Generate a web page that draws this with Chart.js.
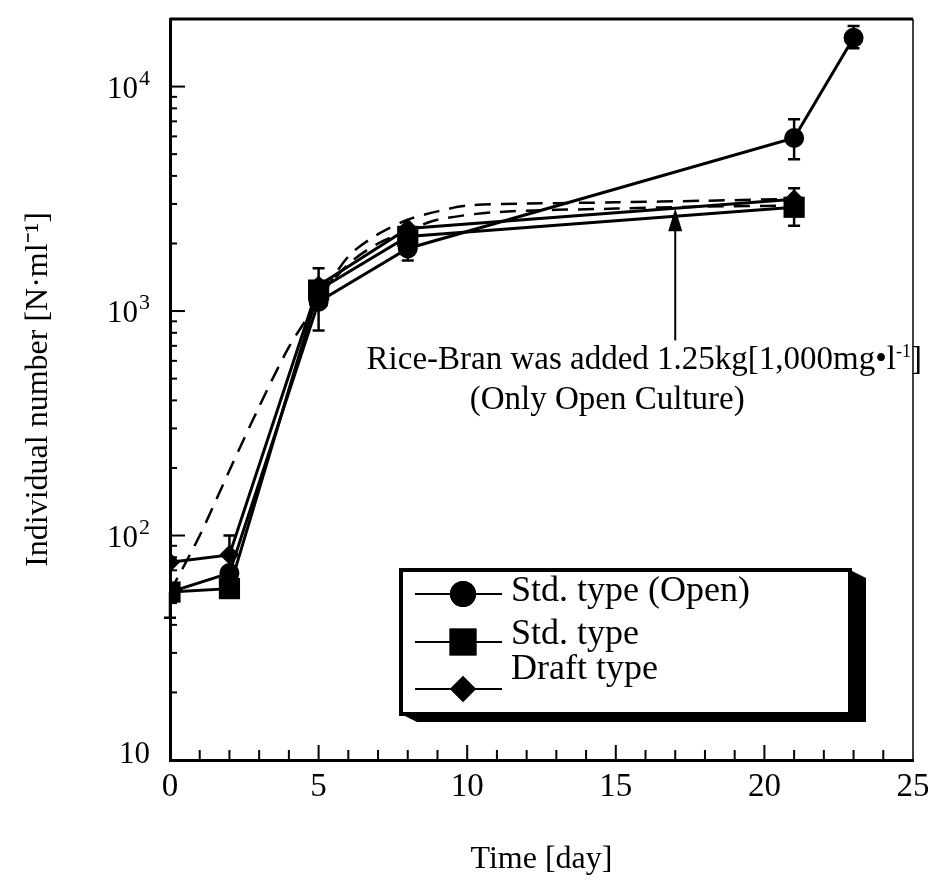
<!DOCTYPE html>
<html>
<head>
<meta charset="utf-8">
<script src="https://cdn.jsdelivr.net/npm/chart.js@4.4.1/dist/chart.umd.min.js"></script>
<style>
  html, body { margin: 0; padding: 0; background: #fff; }
</style>
</head>
<body>
<canvas id="growthChart" width="928" height="883"></canvas>
<script>
// 1. Data (days, individuals per ml)
const openDays = [0, 2, 5, 8, 21, 23];
const openValues = [56, 68, 1100, 1900, 5900, 16500];
const openErrLow = [43, null, 820, 1680, 4750, 14800];
const openErrHigh = [null, null, 1550, null, 7150, 18600];

const stdDays = [0, 2, 5, 8, 21];
const stdValues = [56, 58, 1240, 2150, 2900];
const stdErrLow = [null, null, null, null, 2400];
const stdErrHigh = [null, null, null, null, 3520];

const draftDays = [0, 2, 5, 8, 21];
const draftValues = [76, 82, 1300, 2330, 3150];
const draftErrLow = [null, null, null, null, null];
const draftErrHigh = [null, 100, null, null, null];

// dashed curves (no markers)
const curveADays = [0, 1, 2, 3, 4, 5, 6, 7, 8, 9, 10, 12, 15, 18, 21];
const curveAValues = [56, 100, 195, 375, 690, 1110, 1750, 2200, 2550, 2780, 2950, 3010, 3050, 3100, 3160];
const curveBDays = [5, 6, 7, 8, 9, 11, 15, 18, 21];
const curveBValues = [1150, 1620, 2000, 2280, 2550, 2760, 2860, 2920, 2950];

const xTicks = [0, 5, 10, 15, 20, 25];
const yDecades = [[10, ''], [100, '2'], [1000, '3'], [10000, '4']];

const arrowDay = 17;
const arrowFrom = 740;
const arrowTo = 2870;

const FONT = "'Liberation Serif', 'Times New Roman', serif";

const pts = (xs, ys) => xs.map((x, i) => ({ x: x, y: ys[i] }));

// 2. Plugin: frame, inward ticks, error bars, arrow note, 3D legend box
const figurePlugin = {
    id: 'figureDecor',
    beforeDatasetsDraw: (chart) => {
        const { ctx, scales: { x, y } } = chart;
        ctx.save();
        ctx.strokeStyle = '#000';
        ctx.lineWidth = 2.5;
        const bars = [
            [openDays, openErrLow, openErrHigh, openValues],
            [stdDays, stdErrLow, stdErrHigh, stdValues],
            [draftDays, draftErrLow, draftErrHigh, draftValues]
        ];
        bars.forEach(([days, lo, hi, vals]) => {
            days.forEach((d, i) => {
                const px = x.getPixelForValue(d);
                const py = y.getPixelForValue(vals[i]);
                [lo[i], hi[i]].forEach(v => {
                    if (v == null) return;
                    const ey = y.getPixelForValue(v);
                    ctx.beginPath();
                    ctx.moveTo(px, py); ctx.lineTo(px, ey);
                    ctx.moveTo(px - 6, ey); ctx.lineTo(px + 6, ey);
                    ctx.stroke();
                });
            });
        });
        ctx.restore();
    },
    afterDraw: (chart) => {
        const { ctx, chartArea: a, scales: { x, y } } = chart;
        ctx.save();
        ctx.strokeStyle = '#000';
        ctx.fillStyle = '#000';

        // frame
        ctx.lineWidth = 3;
        ctx.beginPath();
        ctx.moveTo(a.left, a.top); ctx.lineTo(a.right, a.top);
        ctx.stroke();
        ctx.lineWidth = 1.5;
        ctx.beginPath();
        ctx.moveTo(a.right, a.top); ctx.lineTo(a.right, a.bottom);
        ctx.stroke();

        // inward ticks
        ctx.lineWidth = 2;
        for (let d = 1; d < 25; d++) {
            const px = x.getPixelForValue(d);
            const len = d % 5 === 0 ? 15 : 10;
            ctx.beginPath();
            ctx.moveTo(px, a.bottom); ctx.lineTo(px, a.bottom - len);
            ctx.stroke();
        }
        for (let e = 1; e <= 4; e++) {
            for (let m = 1; m <= 9; m++) {
                const v = m * Math.pow(10, e);
                if (v <= 10 || v > 20000) continue;
                const py = y.getPixelForValue(v);
                const len = m === 1 ? 15 : 7;
                ctx.beginPath();
                ctx.moveTo(a.left, py); ctx.lineTo(a.left + len, py);
                ctx.stroke();
            }
        }

        // y labels: 10 with superscript power
        ctx.textAlign = 'right';
        ctx.textBaseline = 'alphabetic';
        yDecades.forEach(([v, p]) => {
            const py = y.getPixelForValue(v);
            let right = a.left - 20;
            if (p) {
                ctx.font = '22px ' + FONT;
                ctx.fillText(p, right, py - 2);
                right -= ctx.measureText(p).width + 1;
            }
            ctx.font = '31px ' + FONT;
            ctx.fillText('10', right, py + (p ? 11 : 3));
        });

        // arrow + note
        const ax = x.getPixelForValue(arrowDay);
        const ay0 = y.getPixelForValue(arrowFrom);
        const ay1 = y.getPixelForValue(arrowTo);
        ctx.lineWidth = 2;
        ctx.beginPath();
        ctx.moveTo(ax, ay0); ctx.lineTo(ax, ay1 + 20);
        ctx.stroke();
        ctx.beginPath();
        ctx.moveTo(ax, ay1); ctx.lineTo(ax - 7, ay1 + 23); ctx.lineTo(ax + 7, ay1 + 23);
        ctx.closePath();
        ctx.fill();

        const runs = (parts, cx, base) => {
            let w = 0;
            parts.forEach(p => { ctx.font = p.size + 'px ' + FONT; w += ctx.measureText(p.t).width; });
            let cur = cx - w / 2;
            ctx.textAlign = 'left';
            ctx.textBaseline = 'alphabetic';
            parts.forEach(p => {
                ctx.font = p.size + 'px ' + FONT;
                ctx.fillText(p.t, cur, base - (p.rise || 0));
                cur += ctx.measureText(p.t).width;
            });
        };
        runs([{ t: 'Rice-Bran was added 1.25kg[1,000mg\u2022l', size: 33 },
              { t: '-1', size: 18, rise: 12 },
              { t: ']', size: 33 }], ax - 31, ay0 + 29);
        runs([{ t: '(Only Open Culture)', size: 33 }], ax - 68, ay0 + 69);

        // legend box with 3D shadow
        const L = 401, T = 570, R = 850, B = 714, dx = 16, dy = 8;
        ctx.beginPath();
        ctx.moveTo(R, T); ctx.lineTo(R + dx, T + dy); ctx.lineTo(R + dx, B + dy);
        ctx.lineTo(L + dx, B + dy); ctx.lineTo(L, B); ctx.lineTo(R, B);
        ctx.closePath();
        ctx.fill();
        ctx.fillStyle = '#fff';
        ctx.fillRect(L, T, R - L, B - T);
        ctx.fillStyle = '#000';
        ctx.lineWidth = 4;
        ctx.strokeRect(L, T, R - L, B - T);

        const rows = [
            { ds: chart.data.datasets[0], my: 594, ty: 601, r: 13 },
            { ds: chart.data.datasets[1], my: 642, ty: 644, r: 19 },
            { ds: chart.data.datasets[2], my: 689, ty: 679, r: 13 }
        ];
        rows.forEach(row => {
            ctx.lineWidth = 2;
            ctx.beginPath();
            ctx.moveTo(415, row.my); ctx.lineTo(502, row.my);
            ctx.stroke();
            Chart.helpers.drawPoint(ctx, { pointStyle: row.ds.pointStyle, radius: row.r, rotation: 0, borderWidth: 0 }, 463, row.my);
            ctx.fill();
            ctx.font = '36px ' + FONT;
            ctx.textAlign = 'left';
            ctx.textBaseline = 'alphabetic';
            ctx.fillText(row.ds.label, 511, row.ty);
        });
        ctx.restore();
    }
};

// 3. Chart
new Chart(document.getElementById('growthChart').getContext('2d'), {
    type: 'line',
    data: {
        datasets: [
            { label: 'Std. type (Open)', data: pts(openDays, openValues), pointStyle: 'circle', pointRadius: 10 },
            { label: 'Std. type', data: pts(stdDays, stdValues), pointStyle: 'rect', pointRadius: 15 },
            { label: 'Draft type', data: pts(draftDays, draftValues), pointStyle: 'rectRot', pointRadius: 10 },
            { label: 'curve A', data: pts(curveADays, curveAValues), pointRadius: 0, borderDash: [16, 10], tension: 0.3, borderWidth: 2.5 },
            { label: 'curve B', data: pts(curveBDays, curveBValues), pointRadius: 0, borderDash: [16, 10], tension: 0.3, borderWidth: 2.5 }
        ].map(ds => Object.assign({ borderColor: '#000', backgroundColor: '#000', borderWidth: 3, pointBorderWidth: 0, fill: false }, ds))
    },
    options: {
        responsive: false,
        animation: false,
        devicePixelRatio: 1,
        layout: { padding: { left: 0, top: 19, right: 15, bottom: 0 } },
        scales: {
            x: {
                type: 'linear', min: 0, max: 25,
                afterBuildTicks: (s) => { s.ticks = xTicks.map(v => ({ value: v })); },
                afterFit: (s) => { s.height = 123; s.paddingLeft = 0; s.paddingRight = 0; },
                grid: { display: false },
                border: { color: '#000', width: 3 },
                ticks: { color: '#000', padding: 0, font: { family: FONT, size: 33 } },
                title: { display: true, text: 'Time [day]', color: '#000', font: { family: FONT, size: 32 }, padding: { bottom: 4 } }
            },
            y: {
                type: 'logarithmic', min: 10, max: 20000,
                afterFit: (s) => { s.width = 170; s.paddingTop = 0; s.paddingBottom = 0; },
                grid: { display: false },
                border: { color: '#000', width: 3 },
                ticks: { display: false },
                title: { display: true, text: 'Individual number [N\u00B7ml\u207B\u00B9]', color: '#000', font: { family: FONT, size: 32 }, padding: { top: 19 } }
            }
        },
        plugins: { legend: { display: false }, tooltip: { enabled: false } }
    },
    plugins: [figurePlugin]
});
</script>
</body>
</html>
